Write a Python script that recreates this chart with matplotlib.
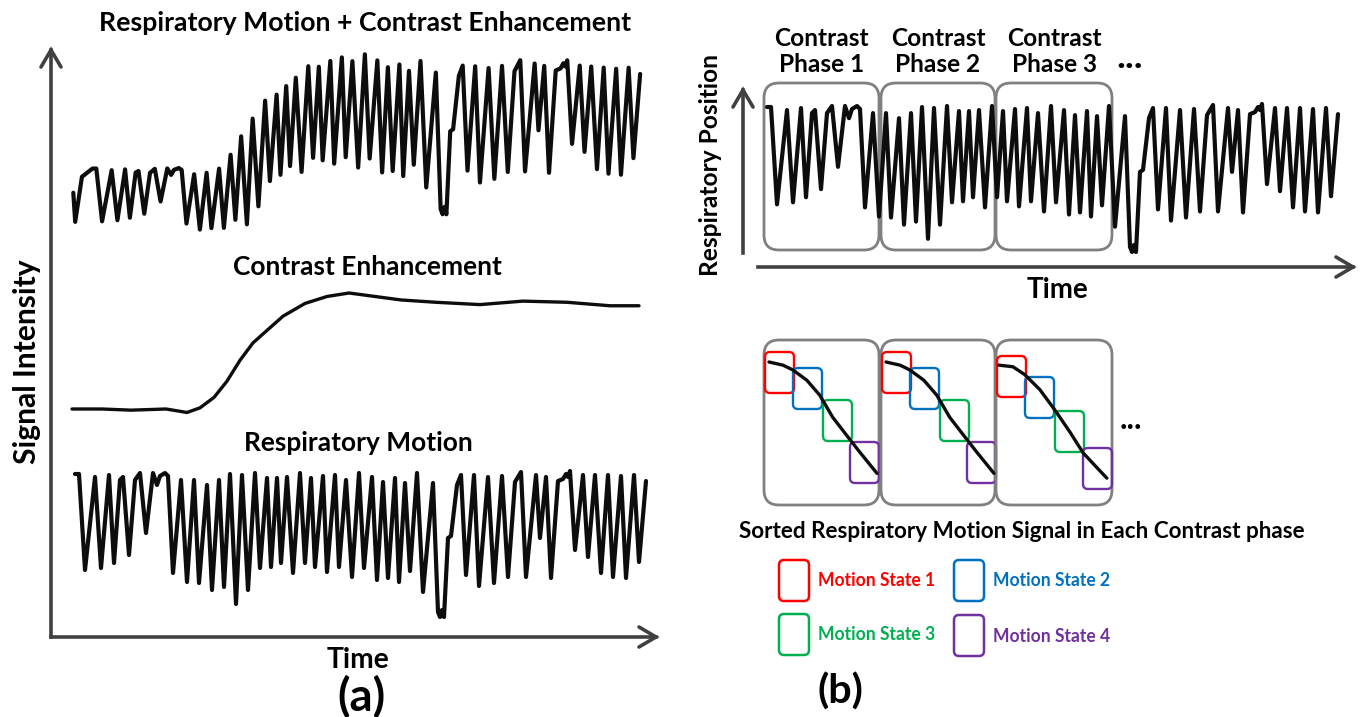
"""Respiratory motion + contrast enhancement schematic, panels (a) and (b)."""
import numpy as np
import matplotlib
matplotlib.use("Agg")
import matplotlib.pyplot as plt
from matplotlib import transforms
from matplotlib.patches import FancyBboxPatch

W, H = 1361, 717
FONT = ["Lato", "DejaVu Sans"]
AXC = "#404040"
BOXC = "#808080"
INK = "#0d0d0d"

# respiratory position trace: time (frames) and position (mm, 0 = end-expiration)
resp_t = [3, 7, 13, 23, 29, 37, 42, 48, 51, 57,
          63, 68, 74, 81, 85, 88, 93, 96, 101, 109,
          115, 122, 127, 135, 140, 147, 152, 158, 164, 170,
          176, 183, 188, 195, 199, 205, 209, 215, 221, 228,
          233, 239, 243, 251, 255, 263, 267, 274, 280, 287,
          292, 300, 305, 311, 316, 323, 327, 333, 338, 345,
          351, 361, 366, 368, 370, 372, 376, 379, 385, 389,
          394, 402, 407, 416, 422, 430, 436, 443, 449, 454,
          464, 468, 474, 479, 486, 491, 494, 496, 498, 503,
          511, 516, 523, 529, 536, 541, 549, 554, 562, 567,
          574]
resp_mm = [-0.1, -0.1, -9.7, -0.4, -9.5, -0.2, -9.0, -0.7, -0.4, -8.2,
           -0.7, 0.0, -6.0, 0.0, -1.2, -0.3, 0.0, -0.3, -10.0, -0.7,
           -10.9, -0.7, -11.0, -1.2, -11.7, -0.7, -11.4, -0.1, -13.1, -0.2,
           -11.7, 0.0, -9.5, -0.5, -9.4, -0.5, -9.0, -0.4, -10.0, 0.0,
           -9.0, -0.5, -9.4, -0.3, -9.9, -0.2, -9.4, -0.7, -10.4, 0.0,
           -9.5, -0.4, -10.7, -0.9, -10.5, -0.5, -10.9, -1.0, -9.8, 0.0,
           -11.9, -1.0, -13.9, -14.4, -13.7, -14.4, -6.5, -6.3, -1.2, -0.2,
           -10.2, -0.2, -11.3, -0.4, -11.0, -0.3, -10.4, -0.9, 0.1, -10.4,
           -0.2, -6.5, -0.4, -10.5, -0.8, -0.6, -0.1, -0.4, 0.2, -7.7,
           -0.2, -8.4, -0.2, -10.0, -0.2, -10.4, -0.3, -10.5, -0.2, -8.9,
           -0.8]

# short lead-in only present on the combined trace
lead_t = [-17, -15, -8]
lead_mm = [-4.5, -9.8, -1.6]

# contrast enhancement curve (relative signal, 0 = baseline)
contrast_t = [0, 30, 59, 94, 108, 115, 128, 142, 155, 168,
              181, 194, 211, 233, 255, 277, 303, 329, 364, 408,
              451, 495, 538, 567]
contrast_v = [0.0, 0.0, -0.01, 0.0, -0.02, -0.03, 0.01, 0.10, 0.24, 0.42,
              0.57, 0.67, 0.80, 0.91, 0.97, 1.0, 0.97, 0.94, 0.92, 0.90,
              0.93, 0.92, 0.89, 0.89]

# contrast phase windows (frames)
phase_start = [0, 117, 232]
phase_end = [115, 231, 348]
phase_names = ["Phase 1", "Phase 2", "Phase 3"]

# sorted respiratory positions inside each phase (normalised rank, mm)
sorted_rank = [[0.0, 0.13, 0.22, 0.35, 0.47, 0.59, 0.72, 0.84, 1.0],
               [0.0, 0.13, 0.22, 0.35, 0.47, 0.59, 0.72, 0.84, 1.0],
               [-0.02, 0.11, 0.22, 0.36, 0.50, 0.64, 0.76, 0.89, 0.98]]
sorted_mm = [[0.0, -0.4, -1.0, -2.3, -4.2, -7.0, -9.3, -11.4, -14.1],
             [0.0, -0.4, -1.0, -2.3, -4.2, -7.0, -9.3, -11.4, -14.1],
             [-0.4, -0.6, -1.6, -3.5, -6.1, -8.9, -11.5, -13.4, -14.7]]

state_names = ["Motion State 1", "Motion State 2", "Motion State 3", "Motion State 4"]
state_colors = ["#ff0000", "#0070c0", "#00b050", "#7030a0"]

# ---------------------------------------------------------------- helpers
fig = plt.figure(figsize=(W / 100, H / 100), dpi=100)
canvas = fig.add_axes([0, 0, 1, 1])
canvas.set_xlim(0, W)
canvas.set_ylim(H, 0)
canvas.axis("off")
renderer = fig.canvas.get_renderer()


def px_axes(left, right, top, bottom, xlim, ylim):
    ax = fig.add_axes([left / W, 1 - bottom / H, (right - left) / W, (bottom - top) / H])
    ax.set_xlim(*xlim)
    ax.set_ylim(*ylim)
    ax.axis("off")
    return ax


def label(x, y, s, width=None, size=None, rot=0, color="black", ha="center", transform=None):
    t = canvas.text(x, y, s, fontsize=size or 10, fontweight="bold", family=FONT,
                    rotation=rot, ha=ha, va="center", color=color,
                    transform=transform or canvas.transData)
    if size is None:
        bb = t.get_window_extent(renderer)
        t.set_fontsize(10 * width / (bb.height if rot else bb.width))
    return t


def rbox(x0, y0, x1, y1, r, color, lw, transform=None):
    canvas.add_patch(FancyBboxPatch((x0, y0), x1 - x0, y1 - y0,
                                    boxstyle=f"round,pad=0,rounding_size={r}",
                                    fc="none", ec=color, lw=lw, clip_on=False,
                                    transform=transform or canvas.transData))


def arrow(x0, y0, x1, y1, lw=2.6, color=AXC, wing=10, back=17):
    canvas.plot([x0, x1], [y0, y1], color=color, lw=lw, solid_capstyle="projecting")
    d = np.array([x1 - x0, y1 - y0], float)
    d /= np.hypot(*d)
    n = np.array([-d[1], d[0]])
    base = np.array([x1, y1]) - d * back
    a, b = base + n * wing, base - n * wing
    canvas.plot([a[0], x1, b[0]], [a[1], y1, b[1]], color=color, lw=lw,
                solid_joinstyle="miter", solid_capstyle="round")


def trace(ax, x, y, lw=3.0):
    ax.plot(x, y, color=INK, lw=lw, clip_on=False,
            solid_joinstyle="round", solid_capstyle="round")


# ---------------------------------------------------------------- panel (a)
t_all = np.array(lead_t + resp_t, float)
mm_all = np.array(lead_mm + resp_mm, float)
c_all = np.interp(t_all, contrast_t, contrast_v, left=0.0)
combined = c_all + 0.0478 * (1 + c_all) * mm_all

ax_top = px_axes(89.6, 641.1, 53, 283, (0, 575), (-1, 1))
trace(ax_top, t_all, combined)

ax_mid = px_axes(72, 647, 293, 409, (0, 575), (0, 1))
trace(ax_mid, contrast_t, contrast_v, lw=2.4)

ax_bot = px_axes(72, 647, 473, 617, (0, 575), (-14.4, 0))
trace(ax_bot, resp_t, resp_mm)

arrow(51, 637, 51, 50)
arrow(51, 637, 656, 637)

label(365, 23, "Respiratory Motion + Contrast Enhancement", width=531)
label(367, 267, "Contrast Enhancement", width=268)
label(358, 443, "Respiratory Motion", width=229)
label(27, 362, "Signal Intensity", width=205, rot=90)
label(358, 660, "Time", width=63)
label(362, 697, "(a)", width=48)

# ---------------------------------------------------------------- panel (b)
ax_b = px_axes(764, 1339, 106, 252, (0, 575), (-14.4, 0))
blend = transforms.blended_transform_factory(ax_b.transData, canvas.transData)

for s, e in zip(phase_start, phase_end):
    rbox(s, 83, e, 250, 15, BOXC, 2.0, transform=blend)
trace(ax_b, resp_t, resp_mm)

arrow(743, 253, 743, 90)
arrow(758, 267, 1353, 267)

probe = label(0, 38, "Contrast", width=94, transform=blend)
fs = probe.get_fontsize()
probe.remove()
for s, e, name in zip(phase_start, phase_end, phase_names):
    label(0.5 * (s + e), 38, "Contrast", size=fs, transform=blend)
    label(0.5 * (s + e), 65, name, size=fs, transform=blend)
label(1130, 57, "...", width=26)
label(711, 165, "Respiratory Position", width=222, rot=90)
label(1058, 290, "Time", width=62)

# sorted signals per phase
state_offsets = [[(1, 12), (29, 28), (59, 60), (86, 102)],
                 [(1, 12), (29, 28), (59, 60), (86, 102)],
                 [(1, 16), (29, 37), (59, 71), (87, 108)]]
for k, (s, e) in enumerate(zip(phase_start, phase_end)):
    left = blend.transform((s, 0))[0]
    left = canvas.transData.inverted().transform((left, 0))[0]
    rbox(s, 340, e, 505, 15, BOXC, 2.0, transform=blend)
    for (dx, dy), col in zip(state_offsets[k], state_colors):
        rbox(left + dx, 340 + dy, left + dx + 29, 340 + dy + 41, 5, col, 1.7)
    ax_s = px_axes(left + 5, left + 113, 362, 480.5, (0, 1), (-15, 0))
    trace(ax_s, sorted_rank[k], sorted_mm[k], lw=2.4)
label(1131, 420, "...", width=22)

label(1022, 532, "Sorted Respiratory Motion Signal in Each Contrast phase", width=569)

legend_pos = [(779, 560), (954, 560), (779, 614), (954, 615)]
lfs = None
for (lx, ly), name, col in zip(legend_pos, state_names, state_colors):
    rbox(lx, ly, lx + 30, ly + 41, 5, col, 1.8)
    t = label(lx + 39, ly + 21, name, width=None if lfs else 117, size=lfs, color=col, ha="left")
    lfs = t.get_fontsize()

label(840, 692, "(b)", width=46)

fig.savefig("out.png", dpi=100)
